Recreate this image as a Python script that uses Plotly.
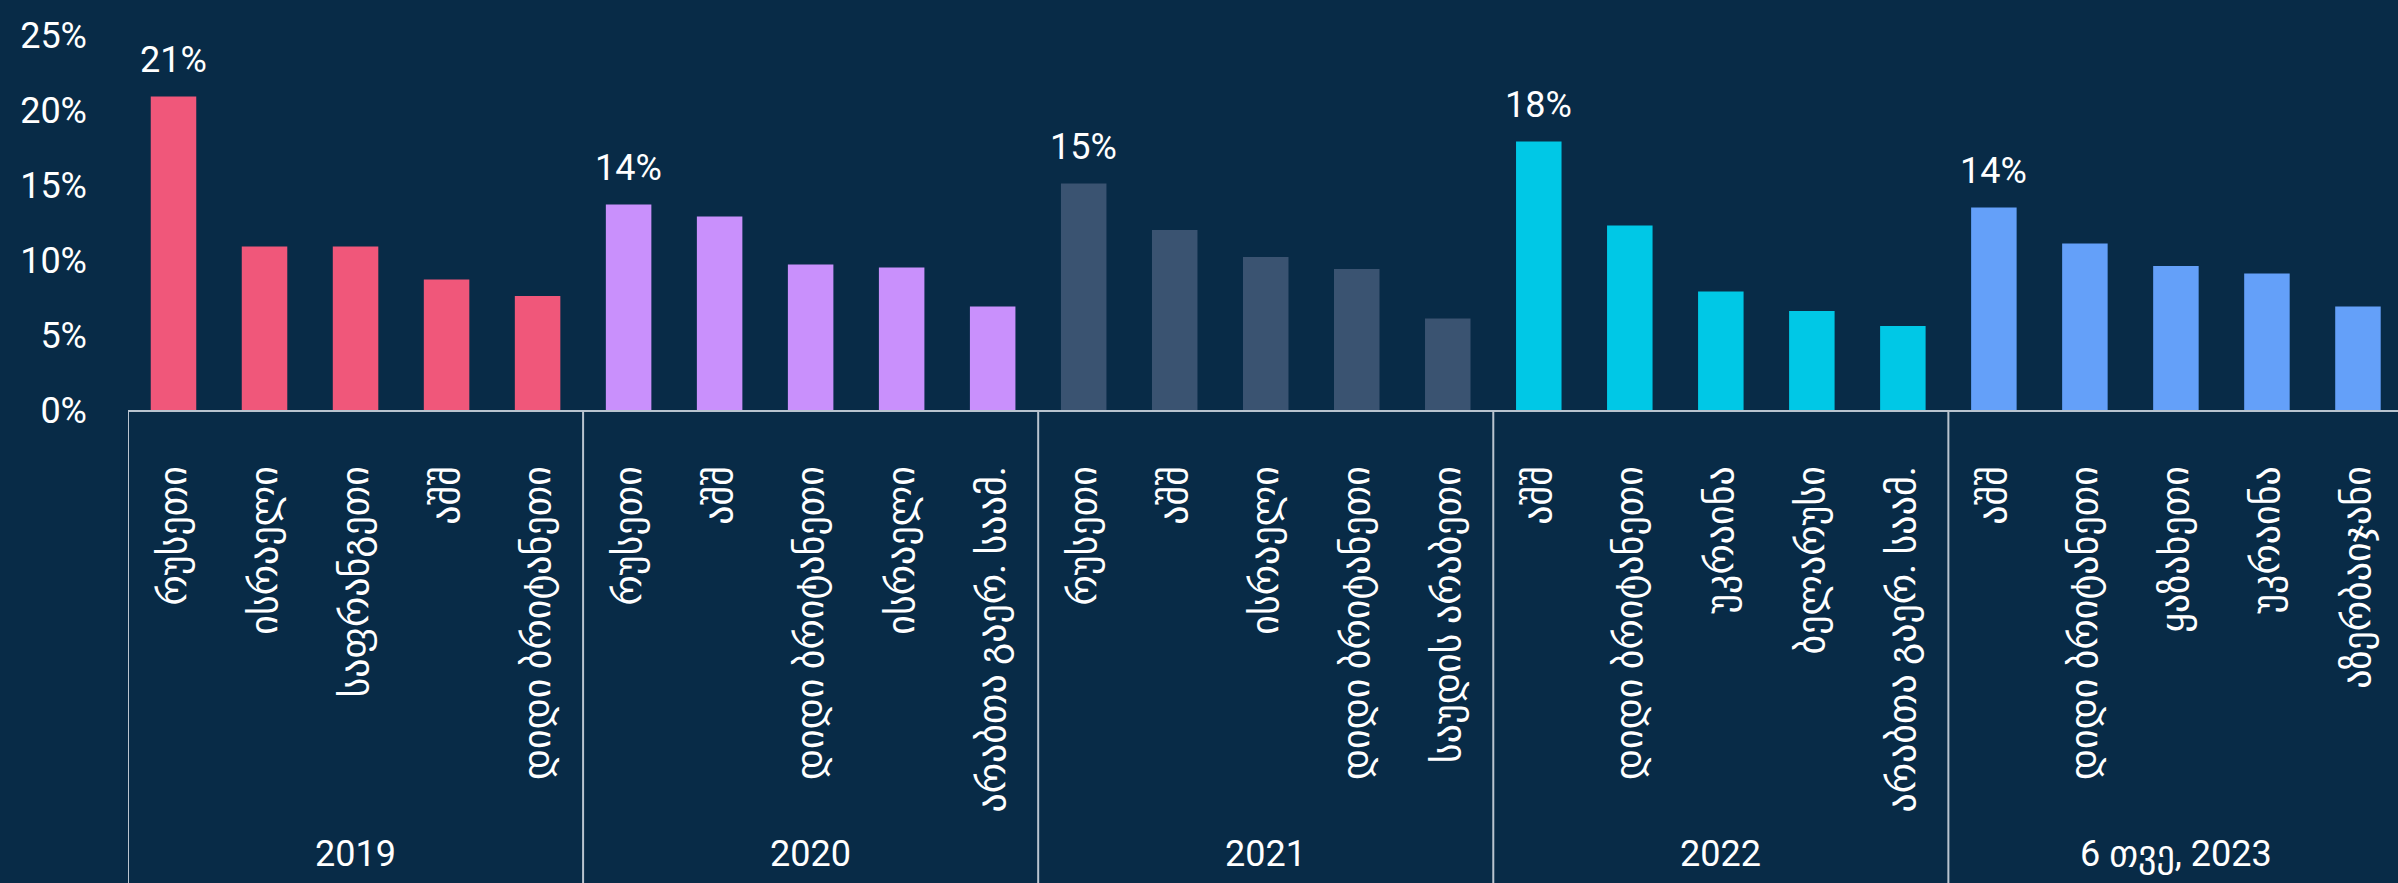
import plotly.graph_objects as go

# one group of five countries per period
years = ["2019", "2020", "2021", "2022", "6 თვე, 2023"]
countries = [
    ["რუსეთი", "ისრაელი", "საფრანგეთი", "აშშ", "დიდი ბრიტანეთი"],
    ["რუსეთი", "აშშ", "დიდი ბრიტანეთი", "ისრაელი", "არაბთა გაერ. საამ."],
    ["რუსეთი", "აშშ", "ისრაელი", "დიდი ბრიტანეთი", "საუდის არაბეთი"],
    ["აშშ", "დიდი ბრიტანეთი", "უკრაინა", "ბელარუსი", "არაბთა გაერ. საამ."],
    ["აშშ", "დიდი ბრიტანეთი", "ყაზახეთი", "უკრაინა", "აზერბაიჯანი"],
]
shares = [
    [20.9, 10.9, 10.9, 8.7, 7.6],
    [13.7, 12.9, 9.7, 9.5, 6.9],
    [15.1, 12.0, 10.2, 9.4, 6.1],
    [17.9, 12.3, 7.9, 6.6, 5.6],
    [13.5, 11.1, 9.6, 9.1, 6.9],
]
colors = ["#f0577a", "#c990fc", "#3a5371", "#00c8e6", "#64a0f9"]
y_ticks = [0, 5, 10, 15, 20, 25]

FONT = "Roboto, 'DejaVu Sans', sans-serif"
BG = "#082b47"
LINE = "#b9c4cf"

fig = go.Figure()
tickvals, ticktext = [], []
pos = 0
for yi, year in enumerate(years):
    xs = list(range(pos, pos + len(shares[yi])))
    fig.add_trace(go.Bar(
        x=xs, y=shares[yi], marker_color=colors[yi], marker_line_width=0,
        width=0.5, showlegend=False, hoverinfo="y",
    ))
    tickvals += xs
    ticktext += countries[yi]
    # value label over the leading bar
    fig.add_annotation(
        x=xs[0], y=shares[yi][0], text=f"{round(shares[yi][0])}%",
        showarrow=False, yanchor="bottom", yshift=14,
        font=dict(family=FONT, size=36, color="white"),
    )
    # period label at the bottom of the group
    fig.add_annotation(
        x=(xs[0] + xs[-1]) / 2, y=-1.185, yref="paper", text=year,
        showarrow=False, yanchor="middle",
        font=dict(family=FONT, size=36, color="white"),
    )
    # group divider
    fig.add_shape(
        type="line", xref="x", yref="paper", x0=xs[0] - 0.5, x1=xs[0] - 0.5,
        y0=0, y1=-1.4, line=dict(color=LINE, width=2),
    )
    pos += len(shares[yi])

fig.update_xaxes(
    range=[-0.5, pos - 0.56], tickvals=tickvals, ticktext=ticktext,
    tickangle=-90, ticks="", ticklabelstandoff=39,
    tickfont=dict(family=FONT, size=38, color="white"),
    showline=True, linecolor=LINE, linewidth=2, showgrid=False, zeroline=False,
)
fig.update_yaxes(
    range=[0, 25], tickvals=y_ticks, ticktext=[f"{v}%" for v in y_ticks],
    ticks="", ticklabelstandoff=40, showgrid=False, zeroline=False, showline=False,
    tickfont=dict(family=FONT, size=36, color="white"),
)
fig.update_layout(
    width=2398, height=883,
    margin=dict(l=128, r=0, t=35, b=473),
    paper_bgcolor=BG, plot_bgcolor=BG,
    bargap=0.5,
)
# the page's default body margin would push the figure off by 8px
fig.write_html(
    "out.html",
    config={"displayModeBar": False},
    post_script="document.body.style.margin='0';document.body.style.overflow='hidden';"
                "document.body.style.background='" + BG + "';",
)
